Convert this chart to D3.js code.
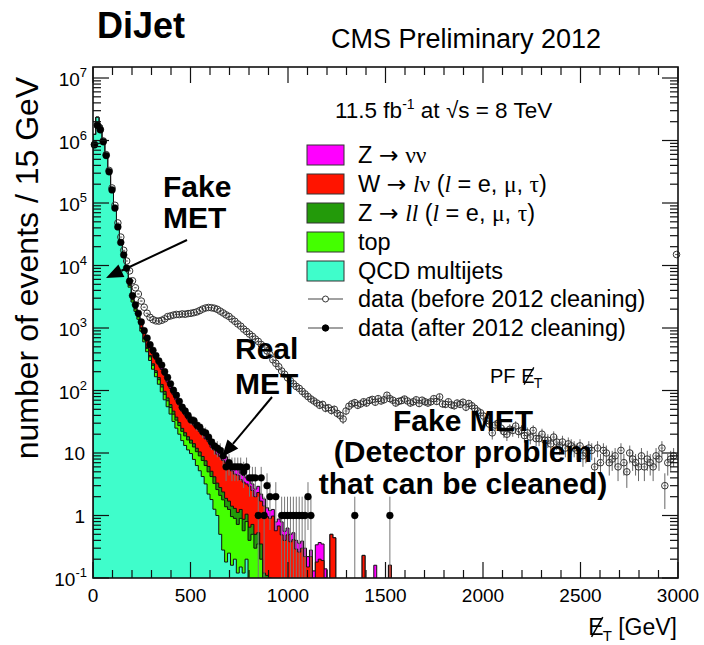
<!DOCTYPE html>
<html>
<head>
<meta charset="utf-8">
<script src="https://cdn.jsdelivr.net/npm/d3@7"></script>
<style>
  body { margin: 0; background: #fff; }
  text { font-family: "Liberation Sans", Arial, Helvetica, sans-serif; fill: #000; }
</style>
</head>
<body>
<svg id="chart" width="704" height="645"></svg>
<script>
// ---- binning and axis ticks ----
const binWidth = 15;              // GeV per bin
const xMajorTicks = [0, 500, 1000, 1500, 2000, 2500, 3000];
const yDecades = [-1, 0, 1, 2, 3, 4, 5, 6, 7];

// ---- simulated backgrounds, events per 15 GeV bin (bin 0 = 0-15 GeV) ----
const qcdMultijet = [
  1250000, 2350000, 1750000, 1000000, 560000, 310000, 160000, 78000, 38500, 21800,
  13300, 8250, 4500, 2600, 1850, 1380, 890, 600, 417, 302,
  219, 166, 126, 95, 71, 55, 42, 32, 25, 20,
  15.8, 13.2, 11.2, 9.8, 7.9, 6.3, 5.2, 4.2, 3.2, 2.2,
  1.8, 1.26, 1.0, 0.5, 0.28, 0.18, 0.25, 0.16, 0.2, 0.12,
  0.15, 0.12, 0.2
];
const topQuark = [
  1800, 2600, 2900, 2700, 2300, 1900, 1500, 1150, 880, 660,
  500, 370, 280, 210, 160, 120, 92, 70, 55, 43,
  34, 28, 23, 19, 16, 13.5, 11.5, 9.8, 8.5, 7.4,
  6.4, 5.6, 5.0, 4.6, 4.6, 4.2, 3.8, 3.4, 3.1, 2.8,
  2.4, 2.0, 1.6, 1.6, 1.5, 1.2, 1.0, 0.8, 0.7, 0.6,
  0.75, 0.45, 0.6, 0.4, 0.5, 0.3, 0.35, 0.2
];
const zToLL = [
  60, 120, 160, 160, 140, 110, 90, 70, 55, 45,
  38, 34, 33, 29, 31, 26, 27, 21, 19, 17,
  14, 13, 12, 11, 10, 7.5, 6, 5, 4, 3.3,
  2.6, 2.3, 2.0, 1.7, 1.6, 1.4, 1.4, 1.2, 1.2, 1.1,
  0.9, 0.9, 0.7, 0.7, 0.6, 0.5, 0.45, 0.45, 0.4, 0.4,
  0.35, 0.3, 0.25, 0.25, 0.22, 0.2, 0.18, 0.15, 0.12, 0.11,
  0.1, 0.08, 0.07, 0.06, 0.04, 0.05, 0.04, 0.04, 0.03, 0.03
];
const wToLNu = [
  600, 1400, 2000, 2200, 2100, 1800, 1500, 1200, 900, 700,
  520, 400, 300, 241, 261, 214, 226, 176, 158, 137,
  117, 108, 98, 92, 78, 60, 48.5, 40, 33, 28,
  22, 19.6, 16.6, 14.1, 13.8, 12.3, 11.6, 10.6, 9.4, 9.1,
  7.3, 7.0, 6.3, 6.0, 5.2, 5.1, 3.9, 3.75, 3.3, 3.3,
  2.5, 2.55, 2.15, 2.3, 1.8, 1.5, 1.8, 1.35, 1.3, 0.85,
  0.8, 0.9, 0.5, 0.62, 0.45, 0.35, 0.45, 0.34, 0.38, 0.26,
  0.26, 0.3, 0.22, 0.15, 0.22, 0.08, 0.18, 0.2, 0.19, 0.1,
  0.06, 0.5, 0.44, 0, 0, 0, 0, 0, 0, 0,
  0, 0, 0.23, 0, 0, 0, 0, 0, 0, 0,
  0, 0.16, 0, 0
];
const zToNuNu = [
  200, 420, 560, 560, 480, 380, 300, 240, 190, 160,
  130, 115, 110, 90, 98, 80, 85, 66, 59, 51,
  43, 40, 36, 34, 29, 22, 18, 15, 12.4, 10.4,
  8.2, 7.3, 6.2, 5.3, 5.2, 4.6, 4.3, 4.0, 3.5, 3.4,
  2.7, 2.6, 2.4, 2.2, 1.9, 1.7, 1.6, 1.4, 1.2, 1.1,
  1.0, 0.95, 0.8, 0.75, 0.68, 0.65, 0.6, 0.5, 0.42, 0.37,
  0.3, 0.27, 0.22, 0.2, 0.3, 0.16, 0.14, 0.12, 0.12, 0.11,
  0.1, 0.09, 0.08, 0.07, 0.06, 0.05, 0.16, 0.17, 0.16, 0.04,
  0.03, 0, 0, 0, 0, 0, 0, 0, 0, 0,
  0, 0, 0, 0, 0, 0, 0.16, 0, 0, 0,
  0, 0, 0, 0
];

// ---- data, events per 15 GeV bin ----
const dataAfterCleaning = [
  851000, 1740000, 1480000, 955000, 575000, 316000, 162000, 83000, 41500, 23400,
  14800, 9100, 5600, 3300, 2350, 1720, 1250, 905, 690, 540,
  440, 362, 298, 255, 200, 162, 128, 101, 84, 67,
  54, 47, 40, 34, 33, 28, 26, 22, 21, 18,
  15, 13, 12, 11, 9, 6, 7, 6, 6, 6,
  6, 5, 6, 4, 4, 4, 1, 4, 1, 3,
  2, 0, 2, 0, 1, 1, 1, 1, 1, 1,
  1, 1, 1, 2, 1, 0, 0, 0, 0, 0,
  0, 0, 0, 0, 0, 0, 0, 0, 0, 1,
  0, 0, 0, 0, 0, 0, 0, 0, 0, 0,
  0, 1, 0, 0
];
const dataBeforeCleaning = [
  870000, 1780000, 1510000, 985000, 595000, 332000, 174000, 92000, 48000, 28500,
  17500, 11800, 8200, 5700, 4400, 3500, 2700, 2150, 1720, 1480,
  1360, 1300, 1290, 1330, 1400, 1520, 1560, 1610, 1650, 1640,
  1680, 1660, 1700, 1720, 1760, 1810, 1900, 2010, 2090, 2130,
  2110, 2070, 1990, 1860, 1740, 1620, 1530, 1390, 1280, 1160,
  1070, 960, 880, 800, 735, 665, 610, 545, 500, 430,
  375, 310, 272, 240, 205, 182, 160, 143, 128, 116,
  108, 97, 88, 80, 73, 68, 63, 58, 60, 52,
  53, 48, 50, 43, 40, 35, 47, 56, 61, 64,
  58, 61, 66, 63, 69, 72, 65, 74, 68, 71,
  84, 74, 70, 63, 67, 69, 73, 68, 63, 66,
  71, 62, 70, 66, 63, 66, 74, 67, 79, 61,
  60, 66, 59, 57, 63, 60, 65, 54, 62, 57,
  52, 47, 44, 39, 33, 29, 21, 28, 30, 25,
  22, 20, 24, 23, 27, 22, 23, 19, 21, 18,
  23, 17, 17, 20, 16, 16, 14, 18, 15, 13,
  15, 12, 14, 13, 12, 11, 13, 9, 10, 12,
  11, 6, 12, 7, 11, 10, 7, 8, 9, 6,
  11, 7, 5, 10, 8, 7, 6, 9, 6, 8,
  7, 6, 9, 8, 12, 3, 7, 8, 9, 15000
];

// ---- stack definition (bottom to top) ----
const stackKeys = ["qcd", "top", "zll", "wlnu", "znunu"];
const stackColors = {
  qcd: "#3ffdcb", top: "#44ff00", zll: "#239a0a", wlnu: "#ff1400", znunu: "#ff00ff"
};
const legendLabels = [
  { key: "znunu" }, { key: "wlnu" }, { key: "zll" }, { key: "top" }, { key: "qcd" }
];

// ---- geometry ----
const X0 = 93, X1 = 678, Y0 = 67, Y1 = 578;
const svg = d3.select("#chart");
const x = d3.scaleLinear().domain([0, 3000]).range([X0, X1]);
const y = d3.scaleLog().domain([0.1, 1.5e7]).range([Y1, Y0]);
const below = Y1 + 30;
const yv = v => (v > 0 ? Math.min(y(v), below) : below);

const defs = svg.append("defs");
defs.append("clipPath").attr("id", "plotClip")
  .append("rect").attr("x", X0).attr("y", Y0).attr("width", X1 - X0).attr("height", Y1 - Y0);
defs.append("clipPath").attr("id", "markerClip")
  .append("rect").attr("x", X0 - 6).attr("y", Y0).attr("width", X1 - X0 + 12).attr("height", Y1 - Y0);

// ---- stacked histograms ----
const nStack = wToLNu.length;
const rows = d3.range(nStack).map(i => ({
  qcd: qcdMultijet[i] || 0,
  top: topQuark[i] || 0,
  zll: zToLL[i] || 0,
  wlnu: wToLNu[i] || 0,
  znunu: zToNuNu[i] || 0
}));
const series = d3.stack().keys(stackKeys)(rows);

function stepPoints(s) {
  const pts = [[x(0), below]];
  s.forEach((d, i) => {
    const yy = yv(d[1]);
    pts.push([x(i * binWidth), yy], [x((i + 1) * binWidth), yy]);
  });
  pts.push([x(s.length * binWidth), below]);
  return pts;
}
const area = d3.area().x(d => d[0]).y0(below).y1(d => d[1]);
const line = d3.line().x(d => d[0]).y(d => d[1]);

const gStack = svg.append("g").attr("clip-path", "url(#plotClip)");
for (let k = series.length - 1; k >= 0; k--) {
  const pts = stepPoints(series[k]);
  gStack.append("path").attr("d", area(pts)).attr("fill", stackColors[series[k].key]);
  gStack.append("path").attr("d", line(pts)).attr("fill", "none")
    .attr("stroke", "#111").attr("stroke-width", 1);
}

// ---- data points with sqrt(N) errors ----
function drawData(values, opts) {
  const g = svg.append("g").attr("clip-path", "url(#markerClip)");
  const pts = values.map((v, i) => ({ v, i })).filter(d => d.v > 0);
  pts.forEach(d => {
    const cx = x(d.i * binWidth + binWidth / 2);
    const e = Math.sqrt(d.v);
    const lo = d.v - e, hi = d.v + e;
    g.append("line").attr("x1", cx).attr("x2", cx)
      .attr("y1", lo > 0 ? Math.min(y(lo), Y1) : Y1).attr("y2", y(hi))
      .attr("stroke", opts.errColor).attr("stroke-width", 1);
    g.append("line").attr("x1", x(d.i * binWidth)).attr("x2", x((d.i + 1) * binWidth))
      .attr("y1", y(d.v)).attr("y2", y(d.v))
      .attr("stroke", opts.errColor).attr("stroke-width", 1);
  });
  pts.forEach(d => {
    g.append("circle").attr("cx", x(d.i * binWidth + binWidth / 2)).attr("cy", y(d.v))
      .attr("r", opts.r).attr("fill", opts.fill).attr("stroke", opts.stroke)
      .attr("stroke-width", opts.sw);
  });
}
drawData(dataBeforeCleaning, { r: 3.3, fill: "none", stroke: "#333", sw: 1, errColor: "#666" });
drawData(dataAfterCleaning, { r: 3.4, fill: "#000", stroke: "#000", sw: 0.5, errColor: "#777" });

// ---- frame and ticks ----
const gAxis = svg.append("g").attr("stroke", "#111").attr("stroke-width", 1.2);
gAxis.append("rect").attr("x", X0).attr("y", Y0).attr("width", X1 - X0).attr("height", Y1 - Y0)
  .attr("fill", "none").attr("stroke-width", 1.6);

d3.range(0, 3001, 100).forEach(v => {
  const len = v % 500 === 0 ? 16 : 8;
  const xx = x(v);
  gAxis.append("line").attr("x1", xx).attr("x2", xx).attr("y1", Y1).attr("y2", Y1 - len);
  gAxis.append("line").attr("x1", xx).attr("x2", xx).attr("y1", Y0).attr("y2", Y0 + len);
});
const yMinor = [];
yDecades.forEach(p => {
  for (let m = 1; m <= 9; m++) {
    const v = m * Math.pow(10, p);
    if (v >= 0.1 && v <= 1.5e7) yMinor.push({ v, major: m === 1 });
  }
});
yMinor.forEach(t => {
  const len = t.major ? 16 : 8;
  const yy = y(t.v);
  gAxis.append("line").attr("x1", X0).attr("x2", X0 + len).attr("y1", yy).attr("y2", yy);
  gAxis.append("line").attr("x1", X1).attr("x2", X1 - len).attr("y1", yy).attr("y2", yy);
});

// tick labels
xMajorTicks.forEach(v => {
  svg.append("text").attr("x", x(v)).attr("y", 602).attr("text-anchor", "middle")
    .attr("font-size", 19).text(v);
});
yDecades.forEach(p => {
  const yy = y(Math.pow(10, p));
  if (p === 0 || p === 1) {
    svg.append("text").attr("x", 85).attr("y", yy + 7).attr("text-anchor", "end")
      .attr("font-size", 19).text(p === 0 ? "1" : "10");
  } else {
    const t = svg.append("text").attr("x", 87).attr("y", yy + 8).attr("text-anchor", "end")
      .attr("font-size", 19);
    t.append("tspan").text("10");
    t.append("tspan").attr("font-size", 13).attr("dy", -9).text(String(p));
  }
});

// axis titles
svg.append("text").attr("transform", "translate(38,268) rotate(-90)")
  .attr("text-anchor", "middle").attr("font-size", 32).text("number of events / 15 GeV");

function slashedE(parent, xs, base, size, subSize) {
  const g = parent.append("g");
  const e = g.append("text").attr("x", xs).attr("y", base).attr("font-size", size).text("E");
  const w = e.node().getComputedTextLength();
  g.append("line").attr("x1", xs + w * 0.22).attr("y1", base + size * 0.08)
    .attr("x2", xs + w * 0.95).attr("y2", base - size * 0.78)
    .attr("stroke", "#000").attr("stroke-width", size * 0.065);
  g.append("text").attr("x", xs + w * 0.95).attr("y", base + size * 0.25)
    .attr("font-size", subSize).text("T");
  return w;
}
const xTitle = svg.append("text").attr("x", 677).attr("y", 635).attr("text-anchor", "end")
  .attr("font-size", 23).text("[GeV]");
const xTitleW = xTitle.node().getComputedTextLength();
slashedE(svg, 677 - xTitleW - 30, 635, 23, 15);

// ---- header texts ----
svg.append("text").attr("x", 97).attr("y", 38).attr("font-size", 36).attr("font-weight", "bold").text("DiJet");
svg.append("text").attr("x", 331).attr("y", 48).attr("font-size", 27).text("CMS Preliminary 2012");

const lumi = svg.append("text").attr("x", 335).attr("y", 118).attr("font-size", 22.5);
lumi.append("tspan").text("11.5 fb");
lumi.append("tspan").attr("font-size", 14).attr("dy", -9).text("-1");
lumi.append("tspan").attr("dy", 9).text(" at ");
lumi.append("tspan").text("\u221As = 8 TeV");

// ---- legend ----
const legX = 307, legTextX = 358;
const rowY = [155, 184, 213, 242, 271, 299, 328];
const serif = "'Liberation Serif', 'DejaVu Serif', serif";
const legendText = [
  [["Z "], ["\u2192", "arrow"], [" "], ["\u03BD\u03BD", "greek"]],
  [["W "], ["\u2192", "arrow"], [" "], ["l", "ital"], ["\u03BD", "greek"], [" ("], ["l", "ital"], [" = e, "], ["\u03BC", "greek"], [", "], ["\u03C4", "greek"], [")"]],
  [["Z "], ["\u2192", "arrow"], [" "], ["ll", "ital"], [" ("], ["l", "ital"], [" = e, "], ["\u03BC", "greek"], [", "], ["\u03C4", "greek"], [")"]],
  [["top"]],
  [["QCD multijets"]],
  [["data (before 2012 cleaning)"]],
  [["data (after 2012 cleaning)"]]
];
legendLabels.forEach((d, i) => {
  svg.append("rect").attr("x", legX).attr("y", rowY[i] - 10).attr("width", 37).attr("height", 20)
    .attr("fill", stackColors[d.key]).attr("stroke", "#333").attr("stroke-width", 1);
});
[5, 6].forEach((i, k) => {
  svg.append("line").attr("x1", 308).attr("x2", 343).attr("y1", rowY[i]).attr("y2", rowY[i])
    .attr("stroke", "#444").attr("stroke-width", 1.2);
  svg.append("circle").attr("cx", 325.5).attr("cy", rowY[i]).attr("r", k === 0 ? 3 : 3.2)
    .attr("fill", k === 0 ? "#fff" : "#000").attr("stroke", k === 0 ? "#333" : "#000").attr("stroke-width", 1);
});
legendText.forEach((parts, i) => {
  const t = svg.append("text").attr("x", legTextX).attr("y", rowY[i] + 8).attr("font-size", 23.5);
  parts.forEach(([s, style]) => {
    const sp = t.append("tspan").text(s);
    if (style === "greek") sp.attr("font-family", serif);
    if (style === "ital") sp.attr("font-family", serif).attr("font-style", "italic");
    if (style === "arrow") sp.attr("font-family", "'DejaVu Sans', sans-serif");
  });
});

// ---- PF missing-ET label ----
const pf = svg.append("text").attr("x", 490).attr("y", 383).attr("font-size", 20).text("PF\u00A0");
slashedE(svg, 490 + pf.node().getComputedTextLength(), 383, 20, 14);

// ---- annotations ----
function boldLines(lines, xPos, anchor) {
  lines.forEach(([s, base]) => {
    svg.append("text").attr("x", xPos).attr("y", base).attr("text-anchor", anchor)
      .attr("font-size", 30).attr("font-weight", "bold").text(s);
  });
}
boldLines([["Fake", 197], ["MET", 228]], 163, "start");
boldLines([["Real", 359], ["MET", 394]], 235, "start");
boldLines([["Fake MET", 431], ["(Detector problem", 462], ["that can be cleaned)", 494]], 463, "middle");

function arrow(x1, y1, x2, y2) {
  const ang = Math.atan2(y2 - y1, x2 - x1);
  const L = 17, W = 7;
  const bx = x2 - L * Math.cos(ang), by = y2 - L * Math.sin(ang);
  svg.append("line").attr("x1", x1).attr("y1", y1).attr("x2", bx).attr("y2", by)
    .attr("stroke", "#000").attr("stroke-width", 2);
  const p = [
    [x2, y2],
    [bx + W * Math.sin(ang), by - W * Math.cos(ang)],
    [bx - W * Math.sin(ang), by + W * Math.cos(ang)]
  ];
  svg.append("path").attr("d", "M" + p.map(q => q.join(",")).join("L") + "Z").attr("fill", "#000");
}
arrow(187, 240, 106, 278);
arrow(272, 397, 222, 457);
</script>
</body>
</html>
